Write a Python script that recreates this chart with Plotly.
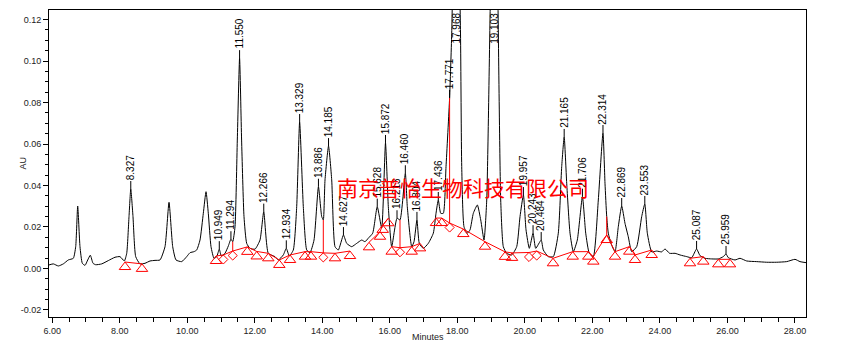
import plotly.graph_objects as go

# ---------------- chromatogram trace (minutes, AU) ----------------
time_min = [5.905, 6.033, 6.181, 6.329, 6.477, 6.625, 6.696, 6.755, 6.823, 6.892, 6.972, 7.052, 7.129,
            7.209, 7.289, 7.466, 7.662, 7.860, 8.008, 8.136, 8.207, 8.275, 8.327, 8.393, 8.473, 8.601,
            8.749, 8.897, 9.045, 9.193, 9.341, 9.460, 9.569, 9.667, 9.836, 9.984, 10.082, 10.200,
            10.280, 10.378, 10.476, 10.556, 10.624, 10.704, 10.793, 10.873, 10.949, 11.009, 11.118,
            11.216, 11.294, 11.347, 11.415, 11.483, 11.550, 11.610, 11.681, 11.761, 11.859, 12.007,
            12.155, 12.266, 12.401, 12.599, 12.697, 12.845, 12.934, 13.023, 13.142, 13.242, 13.329,
            13.438, 13.539, 13.636, 13.755, 13.886, 13.983, 14.030, 14.081, 14.185, 14.279, 14.377,
            14.475, 14.627, 14.723, 14.871, 15.019, 15.168, 15.265, 15.363, 15.493, 15.628, 15.760,
            15.872, 15.956, 16.056, 16.213, 16.302, 16.460, 16.518, 16.649, 16.717, 16.804, 16.874,
            16.992, 17.140, 17.289, 17.369, 17.436, 17.508, 17.585, 17.665, 17.771, 17.834, 17.968,
            18.094, 18.130, 18.198, 18.296, 18.376, 18.474, 18.593, 18.693, 18.791, 18.871, 19.103,
            19.285, 19.362, 19.463, 19.611, 19.759, 19.857, 19.957, 20.035, 20.133, 20.243, 20.322,
            20.484, 20.547, 20.695, 20.843, 20.991, 21.092, 21.165, 21.240, 21.338, 21.436, 21.554,
            21.706, 21.803, 21.909, 22.028, 22.176, 22.314, 22.374, 22.425, 22.472, 22.552, 22.671,
            22.768, 22.869, 22.966, 23.064, 23.165, 23.313, 23.461, 23.553, 23.628, 23.758, 23.906,
            24.054, 24.152, 24.289, 24.450, 24.598, 24.796, 24.943, 25.087, 25.188, 25.337, 25.535,
            25.731, 25.879, 25.959, 26.027, 26.226, 26.374, 26.572, 26.868, 27.164, 27.460, 27.757,
            28.002, 28.150, 28.328]

absorbance_au = [0.0017, 0.0022, 0.0012, 0.0022, 0.0041, 0.0049, 0.0105, 0.0301, 0.0105, 0.0025, 0.0015,
                 0.0041, 0.0064, 0.0025, 0.0018, 0.0022, 0.0038, 0.0054, 0.0057, 0.0036, 0.0073, 0.0250,
                 0.0383, 0.0250, 0.0057, 0.0022, 0.0025, 0.0036, 0.0039, 0.0041, 0.0105, 0.0319, 0.0105,
                 0.0041, 0.0033, 0.0057, 0.0076, 0.0081, 0.0089, 0.0137, 0.0266, 0.0370, 0.0266, 0.0105,
                 0.0049, 0.0057, 0.0093, 0.0060, 0.0073, 0.0108, 0.0141, 0.0129, 0.0201, 0.0619, 0.1014,
                 0.0619, 0.0250, 0.0121, 0.0097, 0.0093, 0.0137, 0.0274, 0.0073, 0.0057, 0.0041, 0.0065,
                 0.0097, 0.0060, 0.0089, 0.0298, 0.0706, 0.0298, 0.0089, 0.0076, 0.0137, 0.0394, 0.0250,
                 0.0234, 0.0427, 0.0590, 0.0427, 0.0105, 0.0089, 0.0161, 0.0121, 0.0105, 0.0121, 0.0137,
                 0.0129, 0.0146, 0.0170, 0.0298, 0.0195, 0.0605, 0.0298, 0.0105, 0.0242, 0.0234, 0.0459,
                 0.0298, 0.0105, 0.0129, 0.0234, 0.0121, 0.0097, 0.0121, 0.0170, 0.0266, 0.0330, 0.0266,
                 0.0266, 0.0491, 0.0822, 0.1134, 0.2200, 0.1135, 0.0491, 0.0201, 0.0170, 0.0186, 0.0266,
                 0.0306, 0.0234, 0.0137, 0.0330, 0.2400, 0.0330, 0.0105, 0.0073, 0.0065, 0.0105, 0.0250,
                 0.0354, 0.0186, 0.0097, 0.0170, 0.0097, 0.0137, 0.0089, 0.0057, 0.0057, 0.0170, 0.0491,
                 0.0634, 0.0411, 0.0170, 0.0081, 0.0137, 0.0346, 0.0170, 0.0073, 0.0057, 0.0330, 0.0653,
                 0.0411, 0.0250, 0.0170, 0.0121, 0.0081, 0.0201, 0.0301, 0.0218, 0.0153, 0.0081, 0.0105,
                 0.0250, 0.0311, 0.0170, 0.0080, 0.0084, 0.0080, 0.0094, 0.0073, 0.0073, 0.0065, 0.0057,
                 0.0052, 0.0094, 0.0062, 0.0049, 0.0046, 0.0046, 0.0057, 0.0070, 0.0052, 0.0041, 0.0049,
                 0.0036, 0.0033, 0.0030, 0.0030, 0.0033, 0.0044, 0.0033, 0.0028]

# ---------------- peak labels ----------------
peak_labels = ["8.327", "10.949", "11.294", "11.550", "12.266", "12.934", "13.329", "13.886", "14.185",
               "14.627", "15.628", "15.872", "16.213", "16.460", "16.804", "17.436", "17.771", "19.957",
               "20.243", "20.484", "21.165", "21.706", "22.314", "22.869", "23.553", "25.087", "25.959"]
offscale_labels = ["17.968", "19.103"]

# ---------------- integration events (baseline points) ----------------
event_t = [8.156, 8.660, 10.852, 11.068, 11.347, 11.779, 12.058, 12.401, 12.727, 13.044, 13.488, 13.666,
           14.030, 14.377, 14.821, 15.384, 15.710, 15.790, 15.956, 16.056, 16.302, 16.649, 16.895, 17.369,
           17.538, 17.771, 18.177, 18.820, 19.412, 19.620, 20.123, 20.351, 20.834, 21.418, 21.880, 22.028,
           22.425, 22.671, 23.094, 23.263, 23.758, 24.892, 25.286, 25.730, 26.077]
event_au = [0.0031, 0.0022, 0.0060, 0.0065, 0.0084, 0.0104, 0.0082, 0.0073, 0.0041, 0.0065, 0.0081, 0.0081,
            0.0075, 0.0073, 0.0084, 0.0126, 0.0177, 0.0210, 0.0242, 0.0105, 0.0100, 0.0105, 0.0121, 0.0243,
            0.0243, 0.0219, 0.0190, 0.0129, 0.0080, 0.0075, 0.0077, 0.0084, 0.0049, 0.0081, 0.0081, 0.0057,
            0.0161, 0.0081, 0.0105, 0.0065, 0.0089, 0.0049, 0.0057, 0.0044, 0.0044]
event_kind = ["T", "T", "T", "D", "D", "T", "T", "T", "T", "T", "T", "T", "D", "T", "T", "T", "T", "T",
              "T", "T", "D", "T", "T", "T", "T", "D", "T", "T", "T", "T", "D", "D", "T", "T", "T", "T",
              "T", "T", "T", "T", "T", "T", "T", "T", "T"]
event_segment = [0, 0, 1, 1, 1, 1, 1, 1, 1, 1, 1, 1, 1, 1, 1, 2, 2, 2, 2, 3, 3, 3, 3, 4, 4, 4, 4, 4, 4, 4,
                 4, 4, 4, 4, 4, 4, 4, 4, 4, 4, 4, 5, 5, 6, 6]
drop_t = [11.347, 14.030, 16.302, 17.771, 22.425]

x_tick_vals = [6, 8, 10, 12, 14, 16, 18, 20, 22, 24, 26, 28]
x_tick_text = ["6.00", "8.00", "10.00", "12.00", "14.00", "16.00", "18.00", "20.00", "22.00", "24.00",
               "26.00", "28.00"]
y_tick_vals = [-0.02, 0.0, 0.02, 0.04, 0.06, 0.08, 0.10, 0.12]
y_tick_text = ["-0.02", "0.00", "0.02", "0.04", "0.06", "0.08", "0.10", "0.12"]

watermark = "南京普怡生物科技有限公司"

# ---------------- styling ----------------
FONT = "Liberation Sans, Arial, Helvetica, sans-serif"
RED = "#ff0000"
X_RANGE = [5.905, 28.328]
Y_RANGE = [-0.0234, 0.1246]
PX_PER_AU = 2075.0          # vertical scale of the plot area (px per AU)
TRI_DROP = 5 / PX_PER_AU    # triangle drawn just below its baseline point
DIA_DROP = 4.5 / PX_PER_AU
TICK_GAP_PX = 8             # connector between apex and label
LABEL_SIZE = 10


def text_px(s, size=LABEL_SIZE):
    return sum((0.278 if c == "." else 0.556) * size for c in s)


au_at = dict(zip(time_min, absorbance_au))
ev_at = dict(zip(event_t, event_au))

fig = go.Figure()

fig.add_trace(go.Scatter(x=time_min, y=absorbance_au, mode="lines",
                         line=dict(color="black", width=1, shape="spline", smoothing=0.5),
                         hoverinfo="skip", showlegend=False))

# label connectors
cx, cy = [], []
for lab in peak_labels:
    t = float(lab)
    cx += [t, t, None]
    cy += [au_at[t], au_at[t] + TICK_GAP_PX / PX_PER_AU, None]
fig.add_trace(go.Scatter(x=cx, y=cy, mode="lines", line=dict(color="black", width=1),
                         hoverinfo="skip", showlegend=False))

# baseline segments
bx, by = [], []
for i, (t, a) in enumerate(zip(event_t, event_au)):
    if i > 0 and event_segment[i] != event_segment[i - 1]:
        bx.append(None)
        by.append(None)
    bx.append(t)
    by.append(a)
fig.add_trace(go.Scatter(x=bx, y=by, mode="lines", line=dict(color=RED, width=1),
                         hoverinfo="skip", showlegend=False))

# drop lines
dx, dy = [], []
for t in drop_t:
    dx += [t, t, None]
    dy += [au_at[t], ev_at[t], None]
fig.add_trace(go.Scatter(x=dx, y=dy, mode="lines", line=dict(color=RED, width=1),
                         hoverinfo="skip", showlegend=False))

tri_t = [t for t, k in zip(event_t, event_kind) if k == "T"]
tri_a = [a - TRI_DROP for a, k in zip(event_au, event_kind) if k == "T"]
dia_t = [t for t, k in zip(event_t, event_kind) if k == "D"]
dia_a = [a - DIA_DROP for a, k in zip(event_au, event_kind) if k == "D"]
fig.add_trace(go.Scatter(x=tri_t, y=tri_a, mode="markers",
                         marker=dict(symbol="triangle-up-open", size=10, color=RED, line=dict(width=1)),
                         hoverinfo="skip", showlegend=False))
fig.add_trace(go.Scatter(x=dia_t, y=dia_a, mode="markers",
                         marker=dict(symbol="diamond-open", size=7, color=RED, line=dict(width=1)),
                         hoverinfo="skip", showlegend=False))

annotations = []
for lab in peak_labels:
    t = float(lab)
    annotations.append(dict(x=t, y=au_at[t], text=lab, textangle=-90, showarrow=False,
                            xanchor="center", yanchor="middle",
                            yshift=TICK_GAP_PX + 1 + text_px(lab) / 2, borderpad=0,
                            font=dict(family=FONT, size=LABEL_SIZE, color="black")))
for lab in offscale_labels:
    annotations.append(dict(x=float(lab), y=Y_RANGE[1], text=lab, textangle=-90, showarrow=False,
                            xanchor="center", yanchor="middle", yshift=-(3 + text_px(lab) / 2),
                            borderpad=0, font=dict(family=FONT, size=LABEL_SIZE, color="black")))

annotations.append(dict(xref="paper", yref="paper", x=0, y=0.5, xshift=-34, text="AU", textangle=-90,
                        showarrow=False, font=dict(family=FONT, size=9, color="#222")))
annotations.append(dict(xref="paper", yref="paper", x=0.5, y=0, yshift=-20, text="Minutes",
                        showarrow=False, yanchor="middle", font=dict(family=FONT, size=9, color="#222")))
annotations.append(dict(x=18.168, y=0.0393, text=watermark, showarrow=False,
                        font=dict(family="Noto Sans CJK SC", size=21, color=RED)))

axis_common = dict(showline=True, mirror=True, linecolor="black", linewidth=1, showgrid=False,
                   zeroline=False, ticks="outside", tickcolor="black", ticklen=5, tickwidth=1,
                   tickfont=dict(family=FONT, size=9, color="#222"))

fig.update_layout(
    width=862, height=352,
    margin=dict(l=49, r=56, t=10, b=35),
    paper_bgcolor="white", plot_bgcolor="white",
    xaxis=dict(range=X_RANGE, tickvals=x_tick_vals, ticktext=x_tick_text,
               minor=dict(dtick=0.5, ticks="outside", ticklen=4, tickcolor="black", showgrid=False),
               **axis_common),
    yaxis=dict(range=Y_RANGE, tickvals=y_tick_vals, ticktext=y_tick_text,
               minor=dict(dtick=0.005, ticks="outside", ticklen=3, tickcolor="black", showgrid=False),
               **axis_common),
    annotations=annotations,
    showlegend=False,
)

fig.write_html("out.html")
